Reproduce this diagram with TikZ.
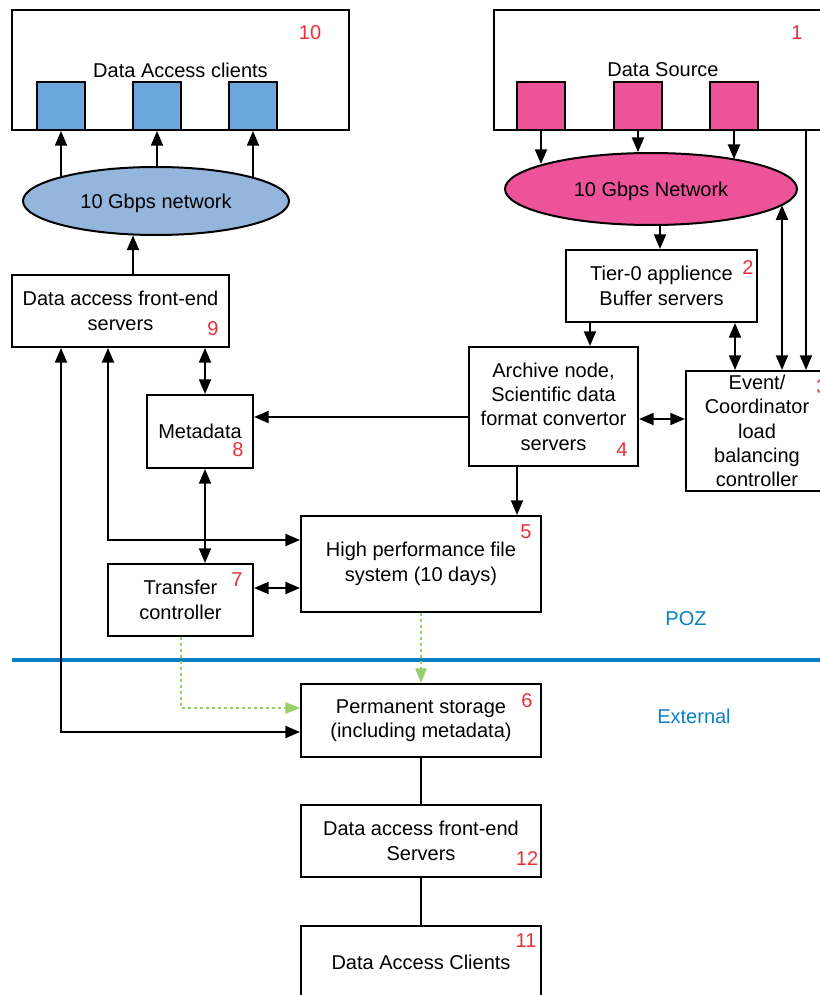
\documentclass[tikz,border=0pt]{standalone}
\usepackage{fontspec}
\setmainfont{Liberation Sans}
\usetikzlibrary{arrows.meta,shapes.geometric}
\definecolor{clientblue}{HTML}{6AA7DA}
\definecolor{netblue}{HTML}{95B6DC}
\definecolor{srcpink}{HTML}{EC5399}
\definecolor{numred}{HTML}{E8303A}
\definecolor{zoneblue}{HTML}{0A80C4}
\definecolor{flowgreen}{HTML}{98CE6C}
\newcommand\diagfont{\fontsize{15}{18.3}\selectfont}

% rectangle from its corners (x1,y1) (x2,y2), in picture units
% \drawunit[options]{name}{x1}{y1}{x2}{y2}{text}
\newcommand\drawunit[7][]{%
  \pgfmathsetmacro\ducx{(#3+#5)/2}%
  \pgfmathsetmacro\ducy{(#4+#6)/2}%
  \pgfmathsetmacro\duw{(#5-#3)*0.75}%
  \pgfmathsetmacro\duh{(#6-#4)*0.75}%
  \node[box,minimum width=\duw pt,minimum height=\duh pt,#1] (#2) at (\ducx,\ducy) {#7};}

\begin{document}
\begin{tikzpicture}[x=0.75pt,y=-0.75pt,
  box/.style={draw,line width=1.5pt,inner sep=0pt,align=center,font=\diagfont},
  net/.style={draw,ellipse,line width=1.5pt,inner sep=0pt,text depth=0pt,font=\diagfont},
  num/.style={text=numred,font=\diagfont,inner sep=0pt},
  zone/.style={text=zoneblue,font=\diagfont,inner sep=0pt},
  link/.style={line width=1.5pt},
  arr/.style={link,-{Triangle[length=11pt,width=9pt]}},
  dbl/.style={link,{Triangle[length=11pt,width=9pt]}-{Triangle[length=11pt,width=9pt]}},
  xfer/.style={line width=1.5pt,draw=flowgreen,dash pattern=on 2.5pt off 2pt,
    -{Triangle[length=11pt,width=8.5pt,fill=flowgreen]}},
]
\useasboundingbox (0,0) rectangle (819,995);

% ---------- client side (top left) ----------
\drawunit{b10}{12}{10}{349}{130}{Data Access clients}
\drawunit[fill=clientblue]{bs1}{37}{82}{85}{130}{}
\drawunit[fill=clientblue]{bs2}{133}{82}{181}{130}{}
\drawunit[fill=clientblue]{bs3}{229}{82}{277}{130}{}
\node[num] (n10) at (310,33) {10};
\node[net,fill=netblue,minimum width=199.5pt,minimum height=51pt] (be) at (156,201) {10 Gbps network};
\drawunit{b9}{12}{275}{229}{347}{Data access front-end\\servers}
\node[num] (n9) at (213,329) {9};

% ---------- data source side (top right) ----------
\drawunit{b1}{494}{10}{832}{130}{Data Source}
\drawunit[fill=srcpink]{ps1}{517}{82}{565}{130}{}
\drawunit[fill=srcpink]{ps2}{614}{82}{662}{130}{}
\drawunit[fill=srcpink]{ps3}{710}{82}{758}{130}{}
\node[num] (n1) at (797,33) {1};
\node[net,fill=srcpink,minimum width=219pt,minimum height=54pt] (pe) at (651,189) {10 Gbps Network};
\drawunit{b2}{566}{250}{757}{322}{Tier-0 applience\\Buffer servers}
\node[num] (n2) at (748,268) {2};
\drawunit{ev}{686}{371}{828}{491}{Event/\\Coordinator\\load\\balancing\\controller}
\node[num] (n3) at (822,387) {3};
\drawunit{b4}{469}{347}{638}{466}{Archive node,\\Scientific data\\format convertor\\servers}
\node[num] (n4) at (622,450) {4};

% ---------- middle ----------
\drawunit{md}{147}{395}{253}{468}{Metadata}
\node[num] (n8) at (238,450) {8};
\drawunit{b5}{301}{516}{541}{612}{High performance file\\system (10 days)}
\node[num] (n5) at (526,532) {5};
\drawunit{b7}{108}{564}{253}{636}{Transfer\\controller}
\node[num] (n7) at (237,580) {7};

% ---------- external side ----------
\drawunit{b6}{301}{684}{541}{757}{Permanent storage\\(including metadata)}
\node[num] (n6) at (527,701) {6};
\drawunit{b12}{301}{805}{541}{877}{Data access front-end\\Servers}
\node[num] (n12) at (527,859) {12};
\drawunit{b11}{301}{926}{541}{998}{Data Access Clients}
\node[num] (n11) at (526,941) {11};

% zone separator and labels
\coordinate (sepL) at (12,660);
\coordinate (sepR) at (830,660);
\draw[zoneblue,line width=2.4pt] (sepL) -- (sepR);
\node[zone] (poz) at (686,619) {POZ};
\node[zone] (ext) at (694,716) {External};

% ---------- routing columns and rows ----------
\coordinate (x61) at (61,0);
\coordinate (x108) at (108,0);
\coordinate (x133) at (133,0);
\coordinate (x181) at (181,0);
\coordinate (x205) at (205,0);
\coordinate (x517) at (517,0);
\coordinate (x590) at (590,0);
\coordinate (x660) at (660,0);
\coordinate (x735) at (735,0);
\coordinate (x782) at (782,0);
\coordinate (x806) at (806,0);
\coordinate (y417) at (0,417);
\coordinate (y419) at (0,419);
\coordinate (y540) at (0,540);
\coordinate (y588) at (0,588);
\coordinate (y708) at (0,708);
\coordinate (y732) at (0,732);

% ---------- connectors ----------
\draw[arr] (bs1.south |- be.165.9) -- (bs1.south);
\draw[arr] (bs2.south |- be.88) -- (bs2.south);
\draw[arr] (bs3.south |- be.13.5) -- (bs3.south);
\draw[arr] (b9.north -| x133) -- (x133 |- be.235.5);

\draw[arr] (ps1.south) -- (ps1.south |- pe.167.7);
\draw[arr] (ps2.south) -- (ps2.south |- pe.109.9);
\draw[arr] (ps3.south) -- (ps3.south |- pe.19.6);
\draw[arr] (x660 |- pe.284.1) -- (b2.north -| x660);
\draw[arr] (b1.south -| x806) -- (ev.north -| x806);
\draw[dbl] (x782 |- pe.353.1) -- (ev.north -| x782);
\draw[arr] (b2.south -| x590) -- (b4.north -| x590);
\draw[dbl] (b2.south -| x735) -- (ev.north -| x735);
\draw[dbl] (b4.east |- y419) -- (ev.west |- y419);
\draw[arr] (b4.west |- y417) -- (md.east |- y417);
\draw[dbl] (b9.south -| x205) -- (md.north -| x205);
\draw[arr] (b4.south -| x517) -- (b5.north -| x517);
\draw[dbl] (md.south -| x205) -- (b7.north -| x205);
\draw[dbl] (b7.east |- y588) -- (b5.west |- y588);
\draw[dbl] (b9.south -| x108) |- (b5.west |- y540);
\draw[dbl] (b9.south -| x61) |- (b6.west |- y732);

\draw[xfer] (b7.south -| x181) |- (b6.west |- y708);
\draw[xfer] (b5.south) -- (b6.north);

\draw[link] (b6.south) -- (b12.north);
\draw[link] (b12.south) -- (b11.north);
\end{tikzpicture}
\end{document}
